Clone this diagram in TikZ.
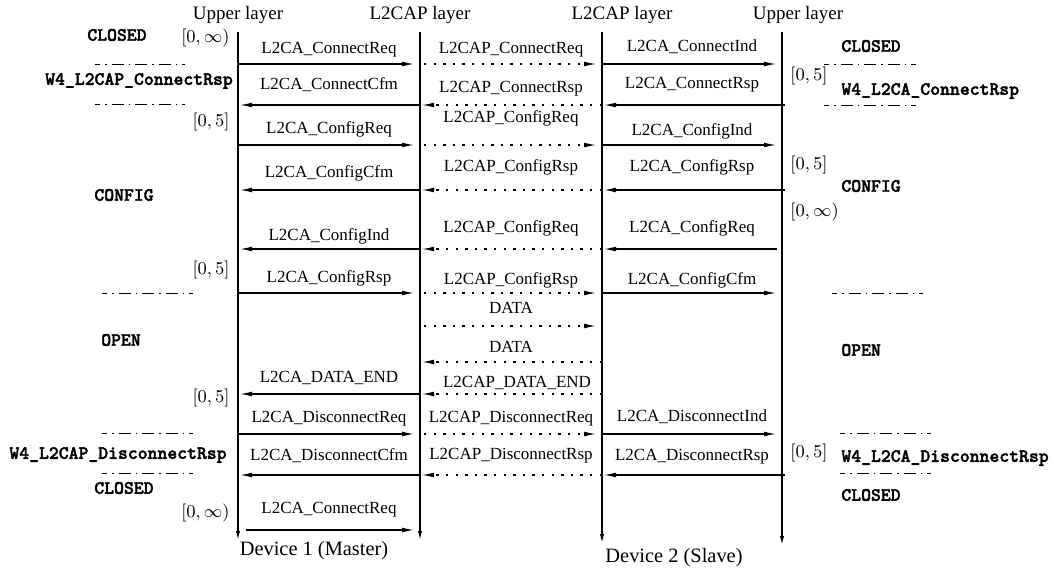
\documentclass[tikz,border=0pt]{standalone}
\usepackage{fontspec}
\setmainfont{Liberation Serif}
\newfontfamily\statefont[FakeBold=2]{lmmonolt10-bold.otf}
\usetikzlibrary{arrows.meta}

\tikzset{
  life/.style={line width=0.7pt, -{Latex[length=4.5pt,width=2.2pt]}},
  sig/.style={line width=0.6pt, -{Latex[length=6pt,width=2.4pt]}},
  pdu/.style={sig, dash pattern=on 1.2pt off 3.6pt},
  fwd/.style={sig, shorten >=3pt},
  bwd/.style={sig, shorten >=1pt},
  fwdp/.style={pdu, shorten <=2pt, shorten >=3pt},
  bwdp/.style={pdu, shorten >=1pt},
  msg/.style={font=\fontsize{8.5}{10}\selectfont, text height=6pt, text depth=2pt, inner sep=0pt, above=2.2pt},
  hdr/.style={font=\fontsize{9.5}{11}\selectfont, inner sep=0pt},
  dev/.style={font=\fontsize{10.2}{12}\selectfont, inner sep=0pt},
  state/.style={font=\fontsize{9.4}{11}\selectfont\statefont, inner sep=0pt},
  tmr/.style={font=\fontsize{9.3}{11}\selectfont, inner sep=0pt},
  sep/.style={line width=0.5pt, dash pattern=on 6pt off 2.5pt on 0.8pt off 2.5pt, dash phase=3.5pt}
}

\begin{document}
\begin{tikzpicture}[x=0.5pt,y=-0.5pt]
\useasboundingbox (0,0) rectangle (1054,573);

% lifelines
\node[hdr] (h1) at (238,15) {Upper layer};
\node[hdr] (h2) at (420,15) {L2CAP layer};
\node[hdr] (h3) at (622,15) {L2CAP layer};
\node[hdr] (h4) at (798,15) {Upper layer};
\coordinate (u1) at (238,32);
\coordinate (p1) at (420,32);
\coordinate (p2) at (602,32);
\coordinate (u2) at (782,32);
\coordinate (u1e) at (238,540);
\coordinate (p1e) at (420,540);
\coordinate (p2e) at (602,543);
\coordinate (u2e) at (782,545);
\draw[life] (u1) -- (u1e);
\draw[life] (p1) -- (p1e);
\draw[life] (p2) -- (p2e);
\draw[life] (u2) -- (u2e);
\node[dev] (d1) at (314,551) {Device 1 (Master)};
\node[dev] (d2) at (674,558) {Device 2 (Slave)};

% connect
\draw[fwd] (u1 |- 0,64) -- node[msg, above=1pt]{L2CA\_ConnectReq} (p1 |- 0,64);
\draw[fwdp] (p1 |- 0,64) -- node[msg, above=1pt]{L2CAP\_ConnectReq} (p2 |- 0,64);
\draw[fwd] (p2 |- 0,64) -- node[msg, above=2pt]{L2CA\_ConnectInd} (u2 |- 0,64);
\draw[bwd] (p1 |- 0,105) -- node[msg, above=3.2pt]{L2CA\_ConnectCfm} (u1 |- 0,105);
\draw[bwdp] (p2 |- 0,105) -- node[msg, above=1.7pt]{L2CAP\_ConnectRsp} (p1 |- 0,105);
\draw[bwd, shorten <=-1.5pt] (u2 |- 0,105) -- node[msg, above=4pt]{L2CA\_ConnectRsp} (p2 |- 0,105);

% config
\draw[fwd] (u1 |- 0,145) -- node[msg, above=1.2pt]{L2CA\_ConfigReq} (p1 |- 0,145);
\draw[fwdp] (p1 |- 0,145) -- node[msg, above=6.7pt]{L2CAP\_ConfigReq} (p2 |- 0,145);
\draw[fwd] (p2 |- 0,145) -- node[msg, above=0.2pt]{L2CA\_ConfigInd} (u2 |- 0,145);
\draw[bwd] (p1 |- 0,190) -- node[msg, above=1.7pt]{L2CA\_ConfigCfm} (u1 |- 0,190);
\draw[bwdp] (p2 |- 0,190) -- node[msg, above=5pt]{L2CAP\_ConfigRsp} (p1 |- 0,190);
\draw[bwd, shorten <=-1.5pt] (u2 |- 0,190) -- node[msg, above=4.7pt]{L2CA\_ConfigRsp} (p2 |- 0,190);
\draw[bwd] (p1 |- 0,249) -- node[msg]{L2CA\_ConfigInd} (u1 |- 0,249);
\draw[bwdp] (p2 |- 0,249) -- node[msg, above=3.7pt]{L2CAP\_ConfigReq} (p1 |- 0,249);
\draw[bwd, shorten <=2.5pt] (u2 |- 0,249) -- node[msg, above=3.7pt]{L2CA\_ConfigReq} (p2 |- 0,249);
\draw[fwd] (u1 |- 0,293) -- node[msg, above=0.7pt]{L2CA\_ConfigRsp} (p1 |- 0,293);
\draw[fwdp] (p1 |- 0,293) -- node[msg]{L2CAP\_ConfigRsp} (p2 |- 0,293);
\draw[fwd] (p2 |- 0,293) -- node[msg]{L2CA\_ConfigCfm} (u2 |- 0,293);

% data
\draw[fwdp] (p1 |- 0,326) -- node[msg, above=1.7pt]{DATA} (p2 |- 0,326);
\draw[bwdp] (p2 |- 0,362) -- node[msg, above=0.2pt]{DATA} (p1 |- 0,362);
\draw[bwd] (p1 |- 0,394) -- node[msg, above=1.2pt]{L2CA\_DATA\_END} (u1 |- 0,394);
\draw[bwdp] (p2 |- 0,394) -- node[msg, above=-1.2pt, xshift=3pt]{L2CAP\_DATA\_END} (p1 |- 0,394);

% disconnect
\draw[fwd] (u1 |- 0,434) -- node[msg, above=1.2pt]{L2CA\_DisconnectReq} (p1 |- 0,434);
\draw[fwdp] (p1 |- 0,434) -- node[msg, above=1.2pt]{L2CAP\_DisconnectReq} (p2 |- 0,434);
\draw[fwd] (p2 |- 0,434) -- node[msg, above=2pt]{L2CA\_DisconnectInd} (u2 |- 0,434);
\draw[bwd] (p1 |- 0,475) -- node[msg, above=2.7pt]{L2CA\_DisconnectCfm} (u1 |- 0,475);
\draw[bwdp] (p2 |- 0,475) -- node[msg, above=3.2pt]{L2CAP\_DisconnectRsp} (p1 |- 0,475);
\draw[bwd, shorten <=-1.5pt] (u2 |- 0,475) -- node[msg, above=2.7pt]{L2CA\_DisconnectRsp} (p2 |- 0,475);
\draw[fwd, shorten <=4pt] (u1 |- 0,530) -- node[msg, above=3.7pt]{L2CA\_ConnectReq} (p1 |- 0,530);

% states of device 1
\node[state] (s1) at (117,35) {CLOSED};
\node[tmr, anchor=east] (t1) at (230,38) {$[0,\infty)$};
\draw[sep] (95,64) -- (185,64);
\node[state] (s2) at (139,81) {W4\_L2CAP\_ConnectRsp};
\draw[sep] (95,104) -- (185,104);
\node[tmr, anchor=east] (t2) at (230,122) {$[0,5]$};
\node[state] (s3) at (124,195) {CONFIG};
\node[tmr, anchor=east] (t3) at (230,270) {$[0,5]$};
\draw[sep] (102,293) -- (193,293);
\node[state] (s4) at (121,340) {OPEN};
\node[tmr, anchor=east] (t4) at (230,398) {$[0,5]$};
\draw[sep] (102,433) -- (193,433);
\node[state] (s5) at (118,455) {W4\_L2CAP\_DisconnectRsp};
\draw[sep] (102,473) -- (193,473);
\node[state] (s6) at (124,488) {CLOSED};
\node[tmr, anchor=east] (t5) at (230,513) {$[0,\infty)$};

% states of device 2
\node[state, anchor=west] (s7) at (841,46) {CLOSED};
\draw[sep] (824,64) -- (916,64);
\node[tmr, anchor=west] (t6) at (790,76) {$[0,5]$};
\node[state, anchor=west] (s8) at (841,91) {W4\_L2CA\_ConnectRsp};
\draw[sep] (824,105) -- (916,105);
\node[tmr, anchor=west] (t7) at (790,165) {$[0,5]$};
\node[state, anchor=west] (s9) at (841,186) {CONFIG};
\node[tmr, anchor=west] (t8) at (790,212) {$[0,\infty)$};
\draw[sep] (832,293) -- (923,293);
\node[state, anchor=west] (s10) at (841,350) {OPEN};
\draw[sep] (840,433) -- (931,433);
\node[tmr, anchor=west] (t9) at (790,453) {$[0,5]$};
\node[state, anchor=west] (s11) at (841,458) {W4\_L2CA\_DisconnectRsp};
\draw[sep] (840,473) -- (931,473);
\node[state, anchor=west] (s12) at (841,495) {CLOSED};
\end{tikzpicture}
\end{document}
